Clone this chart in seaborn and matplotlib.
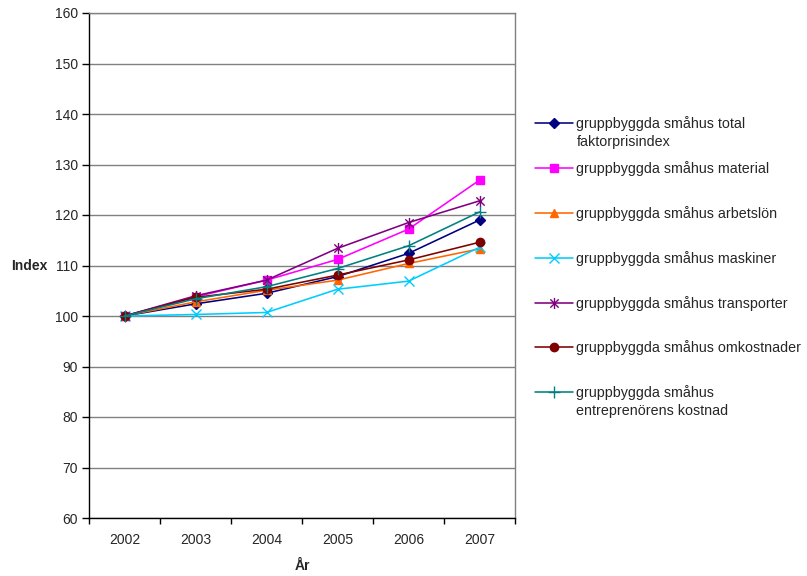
import matplotlib
matplotlib.use("Agg")
import matplotlib.pyplot as plt
from matplotlib.path import Path
from matplotlib.ticker import FixedLocator, NullFormatter
import numpy as np
import pandas as pd
import seaborn as sns

# Years on the x axis
years = [2002, 2003, 2004, 2005, 2006, 2007]

# Factor price index series (2002 = 100)
total = [100.0, 102.4, 104.5, 107.8, 112.4, 119.0]
material = [100.0, 103.8, 107.1, 111.2, 117.2, 126.9]
arbetslon = [100.0, 102.8, 105.1, 107.1, 110.4, 113.3]
maskiner = [100.0, 100.3, 100.7, 105.3, 106.9, 113.6]
transporter = [100.0, 104.0, 107.1, 113.4, 118.5, 122.8]
omkostnader = [100.0, 103.7, 105.3, 108.1, 111.1, 114.6]
entreprenor = [100.0, 103.4, 105.8, 109.4, 113.9, 120.6]

series_names = [
    "gruppbyggda småhus total\nfaktorprisindex",
    "gruppbyggda småhus material",
    "gruppbyggda småhus arbetslön",
    "gruppbyggda småhus maskiner",
    "gruppbyggda småhus transporter",
    "gruppbyggda småhus omkostnader",
    "gruppbyggda småhus\nentreprenörens kostnad",
]
series_values = [total, material, arbetslon, maskiner, transporter,
                 omkostnader, entreprenor]

y_ticks = [60, 70, 80, 90, 100, 110, 120, 130, 140, 150, 160]

colors = ["#000080", "#FF00FF", "#FF6600", "#00CCFF", "#800080",
          "#800000", "#008080"]

# Star marker: an x with a vertical stroke through it
star = Path([(0, -1), (0, 1), (-0.75, -0.75), (0.75, 0.75),
             (-0.75, 0.75), (0.75, -0.75)],
            [Path.MOVETO, Path.LINETO, Path.MOVETO, Path.LINETO,
             Path.MOVETO, Path.LINETO])
markers = ["D", "s", "^", "x", star, "o", "+"]
msizes = [5, 6, 6, 7, 8, 6, 8]

FS = 10
LEG_FS = 10.3

# Only the first line of each label sits in the legend; the rest is added below
first_lines = [n.split("\n")[0] for n in series_names]

rows = []
for name, vals in zip(first_lines, series_values):
    for yr, v in zip(years, vals):
        rows.append({"År": yr, "Index": v, "Serie": name})
df = pd.DataFrame(rows)

sns.set_theme(style="white")
plt.rcParams["font.family"] = ["Liberation Sans", "DejaVu Sans"]
plt.rcParams["font.size"] = FS

fig = plt.figure(figsize=(8.07, 5.76), dpi=100)
W, H = 807, 576
ax = fig.add_axes([89 / W, (576 - 518) / H, 426 / W, 505 / H])

for name, c, m, ms in zip(first_lines, colors, markers, msizes):
    sub = df[df["Serie"] == name]
    sns.lineplot(data=sub, x="År", y="Index", color=c, marker=m,
                 markersize=ms, linewidth=1.15, label=name, ax=ax)

for line, c in zip(ax.lines, colors):
    line.set_markeredgecolor(c)
    line.set_markerfacecolor(c)
    line.set_markeredgewidth(1.0)

ax.set_xlim(years[0] - 0.5, years[-1] + 0.5)
ax.set_ylim(y_ticks[0], y_ticks[-1])
ax.set_yticks(y_ticks)

# Category axis: tick marks at the boundaries, labels centred in each slot
ax.xaxis.set_major_locator(FixedLocator(np.arange(years[0] - 0.5, years[-1] + 1, 1.0)))
ax.xaxis.set_major_formatter(NullFormatter())
ax.xaxis.set_minor_locator(FixedLocator(years))
ax.set_xticklabels([str(y) for y in years], minor=True)
ax.tick_params(axis="x", which="major", direction="out", length=4, width=1,
               color="black", bottom=True)
ax.tick_params(axis="x", which="minor", length=0, pad=11, labelsize=FS,
               bottom=True)
ax.tick_params(axis="y", direction="out", length=5, width=1, color="black",
               pad=3, labelsize=FS, left=True)

ax.grid(axis="y", color="#808080", linewidth=1.0)
ax.grid(axis="x", visible=False)
ax.set_axisbelow(True)
for side in ["left", "bottom"]:
    ax.spines[side].set_color("black")
    ax.spines[side].set_linewidth(1.0)
for side in ["top", "right"]:
    ax.spines[side].set_color("#808080")
    ax.spines[side].set_linewidth(1.0)

ax.set_ylabel("Index", rotation=0, fontweight="bold", fontsize=FS,
              ha="right", va="center")
ax.yaxis.set_label_coords((48 - 89) / 426, 0.5)
ax.set_xlabel("År", fontweight="bold", fontsize=FS)
ax.xaxis.set_label_coords(0.5, -(566 - 518) / 505)
ax.xaxis.label.set_va("center")

handles, labels = ax.get_legend_handles_labels()
ax.get_legend().remove()
leg = fig.legend(handles, labels, loc="upper left",
                 bbox_to_anchor=(535 / W, 1 - 116 / H), frameon=False,
                 fontsize=LEG_FS, handlelength=2.65, handletextpad=0.25,
                 labelspacing=2.09, borderpad=0, borderaxespad=0)

# Second lines of the wrapped legend labels
fig.canvas.draw()
renderer = fig.canvas.get_renderer()
for i, name in enumerate(series_names):
    parts = name.split("\n")
    if len(parts) > 1:
        bb = leg.texts[i].get_window_extent(renderer)
        fig.text(bb.x0 / W, (bb.y0 - 18) / H, parts[1], fontsize=LEG_FS,
                 ha="left", va="bottom")

fig.savefig("out.png", dpi=100, facecolor="white")
